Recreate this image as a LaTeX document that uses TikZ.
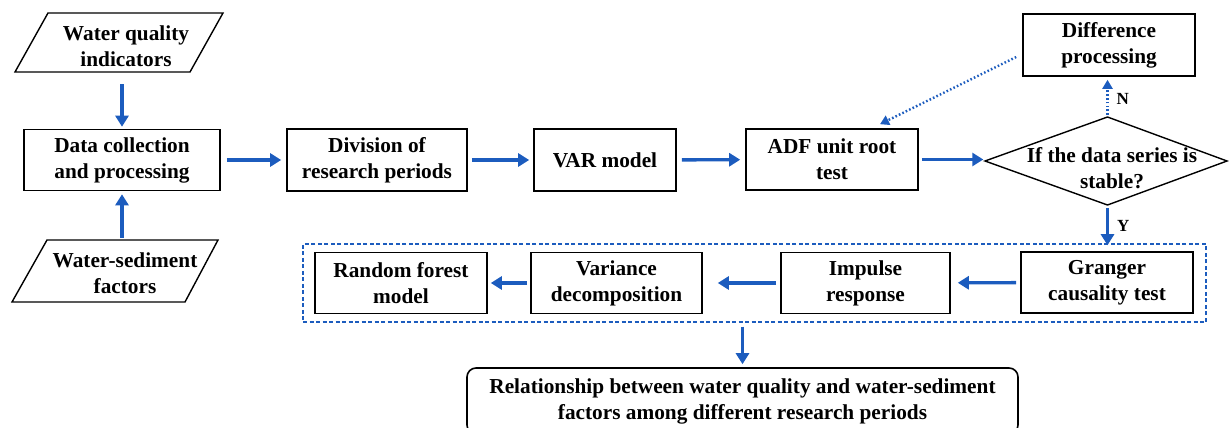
\documentclass[tikz,border=0pt]{standalone}
\usepackage{fontspec}
\setmainfont{Liberation Serif}
\usetikzlibrary{arrows.meta}
\definecolor{flowblue}{RGB}{28,92,190}
\begin{document}
\begin{tikzpicture}[x=1pt,y=-1pt,
  box/.style={draw=black,line width=1.6pt,inner sep=0pt,align=center,font=\bfseries\fontsize{21.3}{26}\selectfont},
  plain/.style={inner sep=0pt,align=center,font=\bfseries\fontsize{21.3}{26}\selectfont},
  flow/.style={draw=flowblue,line width=3.4pt,-{Triangle[length=11pt,width=13pt]}},
  dotflow/.style={draw=flowblue,line width=2.4pt,dash pattern=on 1.6pt off 2.2pt,-{Triangle[length=9pt,width=10pt]}},
  lab/.style={font=\bfseries\fontsize{17}{19}\selectfont,inner sep=0pt}]
\useasboundingbox (0,0) rectangle (1229,428);
% parallelograms
\draw[line width=1.4pt] (15,72) -- (48,13) -- (223,13) -- (190,72) -- cycle;
\node[inner sep=0pt,minimum width=175pt,minimum height=59pt] (wq) at (119,42.5) {};
\node[plain] (wqt) at (126,46) {Water quality\\indicators};
\draw[line width=1.4pt] (12,302) -- (47,240) -- (218,240) -- (185,302) -- cycle;
\node[inner sep=0pt,minimum width=171pt,minimum height=62pt] (ws) at (115.5,271) {};
\node[plain] (wst) at (125,273) {Water-sediment\\factors};
% top row
\node[box,minimum width=196pt,minimum height=61pt] (dc) at (122,160) {Data collection\\and processing};
\node[box,minimum width=180pt,minimum height=62pt] (div) at (377,160) {Division of\\research periods};
\node[box,minimum width=142pt,minimum height=62pt] (var) at (605,160) {VAR model};
\node[box,minimum width=172pt,minimum height=61pt] (adf) at (832,159.5) {ADF unit root\\test};
% diamond
\draw[line width=1.4pt] (985,161) -- (1107.5,117) -- (1227,161) -- (1107.5,205) -- cycle;
\node[inner sep=0pt,minimum width=242pt,minimum height=88pt] (dia) at (1107.5,161) {};
\node[plain] (diat) at (1112,168) {If the data series is\\stable?};
\node[box,minimum width=172pt,minimum height=62pt] (diff) at (1109,45) {Difference\\processing};
% group
\node[draw=flowblue,line width=1.3pt,dash pattern=on 4pt off 2.5pt,minimum width=903pt,minimum height=78pt,inner sep=0pt] (grp) at (754.5,283) {};
\node[box,minimum width=172pt,minimum height=61pt] (gr) at (1107,282.5) {Granger\\causality test};
\node[box,minimum width=169pt,minimum height=61pt] (imp) at (865.5,283) {Impulse\\response};
\node[box,minimum width=171pt,minimum height=61pt] (vd) at (616.5,283) {Variance\\decomposition};
\node[box,minimum width=172pt,minimum height=61pt] (rf) at (401,283) {Random forest\\model};
\node[box,rounded corners=9pt,minimum width=551pt,minimum height=66pt] (rel) at (742.5,401) {Relationship between water quality and water-sediment\\factors among different research periods};
% connectors
\draw[flow,shorten <=12pt,shorten >=2pt] (wq.south-|dc.north) -- (dc.north);
\draw[flow,shorten <=2pt,shorten >=3pt] (ws.north-|dc.south) -- (dc.south);
\draw[flow,shorten <=6pt,shorten >=5pt] (dc) -- (div);
\draw[flow,shorten <=4pt,shorten >=4pt] (div) -- (var);
\draw[flow,shorten <=5pt,shorten >=5pt] (var) -- (adf);
\draw[flow,shorten <=3pt,shorten >=3pt] (adf.east) -- (dia.west|-adf.east);
\draw[dotflow,shorten <=2pt,shorten >=3pt] (dia.north) -- (dia.north|-diff.south) node[lab,pos=0.45,right=8pt] {N};
\draw[dotflow] ([shift={(-6pt,-12pt)}]diff.west) -- ([shift={(48pt,4pt)}]adf.north);
\draw[flow,shorten <=3pt,shorten >=6pt] (dia.south) -- (dia.south|-gr.north) node[lab,pos=0.45,right=8pt] {Y};
\draw[flow,shorten <=4pt,shorten >=7pt] (gr) -- (imp);
\draw[flow,shorten <=4pt,shorten >=15pt] (imp) -- (vd);
\draw[flow,shorten <=3pt,shorten >=3pt] (vd) -- (rf);
\draw[flow,shorten <=4pt,shorten >=3pt] (grp.south-|rel.north) -- (rel.north);
\end{tikzpicture}
\end{document}
